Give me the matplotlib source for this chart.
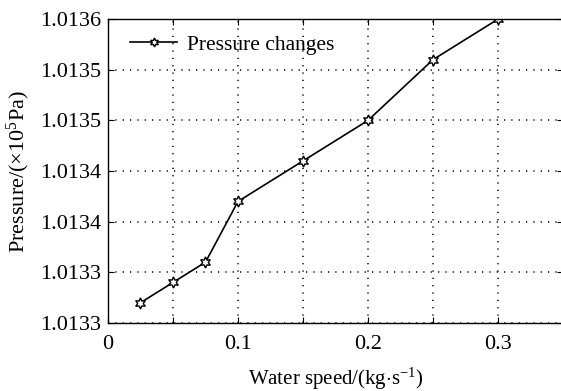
import matplotlib
matplotlib.use("Agg")
import matplotlib.pyplot as plt
from matplotlib.ticker import FixedLocator, FuncFormatter

plt.rcParams['font.family'] = ['Liberation Serif', 'DejaVu Serif']
plt.rcParams['mathtext.fontset'] = 'custom'
plt.rcParams['mathtext.rm'] = 'Liberation Serif'
plt.rcParams['mathtext.it'] = 'Liberation Serif:italic'

# data
water_speed = [0.025, 0.05, 0.075, 0.1, 0.15, 0.2, 0.25, 0.3]
pressure = [1.01332, 1.01334, 1.01336, 1.01342, 1.01346, 1.01350, 1.01356, 1.01360]
x_ticks = [0, 0.05, 0.1, 0.15, 0.2, 0.25, 0.3, 0.35]
x_labels = ['0', '', '0.1', '', '0.2', '', '0.3', '']
y_ticks = [1.0133, 1.01335, 1.0134, 1.01345, 1.0135, 1.01355, 1.0136]

fig = plt.figure(figsize=(5.61, 3.91), dpi=100)
ax = fig.add_axes([0.1925, 0.174, 0.811, 0.777])

ax.plot(water_speed, pressure, color='black', linewidth=1.2,
        marker=(6, 1, 0), markersize=8, markerfacecolor='white',
        markeredgecolor='black', markeredgewidth=1.0, label='Pressure changes')

ax.set_xlim(0, 0.35)
ax.set_ylim(1.0133, 1.0136)
ax.xaxis.set_major_locator(FixedLocator(x_ticks))
ax.set_xticklabels(x_labels)
ax.yaxis.set_major_locator(FixedLocator(y_ticks))
ax.yaxis.set_major_formatter(FuncFormatter(lambda v, p: f"{v:.4f}"))
ax.tick_params(direction='in', length=4, width=0.8, labelsize=16,
               top=True, right=True, colors='black')
ax.tick_params(axis='x', pad=9)
ax.tick_params(axis='y', pad=5)
ax.grid(True, linestyle=(0, (0.8, 4)), color='black', linewidth=1.1)
for s in ax.spines.values():
    s.set_linewidth(1.0)

ax.set_xlabel(r'Water speed/(kg$\cdot$s$^{\mathrm{-1}}$)', fontsize=15, labelpad=8)
ax.set_ylabel(r'Pressure/($\times$10$^{\mathrm{5}}$Pa)', fontsize=16, labelpad=6)

leg = ax.legend(loc='upper left', bbox_to_anchor=(0.048, 0.948), frameon=False,
                fontsize=15.5, handlelength=2.2, handletextpad=0.45,
                borderpad=0, borderaxespad=0, markerscale=0.8)

fig.savefig('out.png', dpi=100)
